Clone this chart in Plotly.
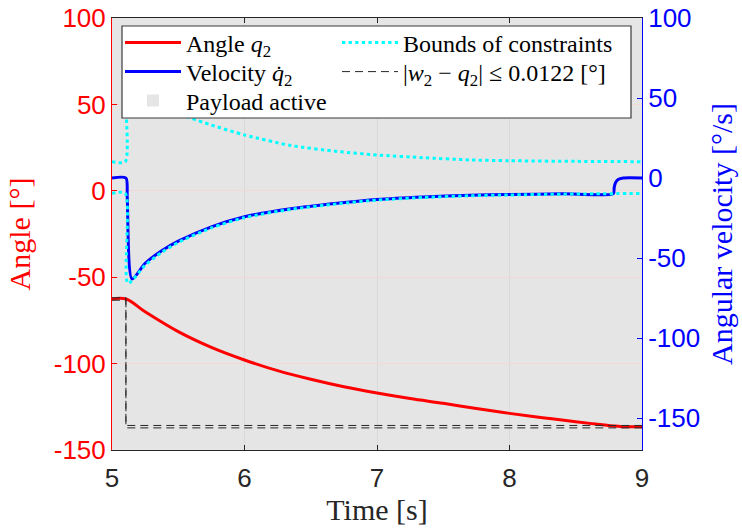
import numpy as np
import plotly.graph_objects as go

# Joint angle q2 [deg]
angle_t = [5.0, 5.106, 5.25, 5.5, 5.75, 6.0, 6.25, 6.5, 6.75, 7.0, 7.25, 7.5,
           7.75, 8.0, 8.25, 8.5, 8.65, 8.78, 8.85, 9.0]
angle_q2 = [-62.6, -62.6, -70.0, -81.5, -90.6, -97.9, -104.1, -109.1, -113.4,
            -117.0, -120.2, -123.0, -126.0, -128.8, -131.3, -133.6, -135.0,
            -136.1, -136.5, -136.5]

# Joint velocity dq2 [deg/s]
vel_t = [5.0, 5.105, 5.115, 5.151, 5.25, 5.375, 5.5, 5.75, 6.0, 6.35, 6.7, 7.0,
         7.35, 7.7, 8.0, 8.4, 8.784, 8.79, 8.80, 8.82, 8.86, 9.0]
vel_q2 = [0.0, 0.0, -12.0, -63.1, -53.3, -45.5, -39.5, -30.5, -24.2, -19.2,
          -15.8, -13.4, -11.8, -10.8, -10.3, -9.9, -9.7, -6.0, -3.0, -1.0,
          0.0, 0.0]

# Velocity constraint bounds [deg/s]
upper_t = [5.0, 5.10, 5.105, 5.2, 5.3, 5.4, 5.5, 5.6, 5.75, 6.0, 6.35, 6.7,
           7.0, 7.35, 7.7, 8.0, 8.5, 9.0]
upper_b = [10.2, 10.2, 68.0, 58.0, 51.0, 45.0, 40.5, 37.3, 33.1, 26.9, 20.3,
           16.6, 14.4, 12.7, 11.3, 10.8, 10.4, 10.2]
lower_t = [5.0, 5.10, 5.12, 5.25, 5.375, 5.5, 5.75, 6.0, 6.35, 6.7, 7.0, 7.35,
           7.7, 8.0, 8.4, 9.0]
lower_b = [-9.6, -9.6, -65.8, -54.5, -46.5, -40.3, -31.2, -24.8, -19.6, -16.2,
           -13.8, -12.2, -11.1, -10.6, -10.1, -9.6]

# Reference w2 [deg] and tolerance |w2 - q2| <= 0.0122 (rad)
w_t = [5.0, 5.105, 5.105, 9.0]
w2 = np.array([-62.6, -62.6, -136.5, -136.5])
tol_rad = 0.0122
tol_deg = np.degrees(tol_rad)

# Payload interval [s]
payload_start, payload_end = 5.0, 9.0

# Axis ticks
x_ticks = [5, 6, 7, 8, 9]
y_ticks = [-150, -100, -50, 0, 50, 100]
y_ticktext = [str(v) for v in y_ticks]

SERIF = "Liberation Serif, Times New Roman, serif"
SANS = "Liberation Sans, Arial, sans-serif"


# plot area in pixels: x 112..642, y 18..450
def px_x(px):
    return (px - 112) / 530


def px_y(py):
    return (450 - py) / 432


fig = go.Figure()

fig.add_trace(go.Scatter(
    x=angle_t, y=angle_q2, mode="lines", name="Angle <i>q</i><sub>2</sub>",
    line=dict(color="#ff0000", width=3, shape="spline", smoothing=1.0),
    yaxis="y", legend="legend"))

for i, lvl in enumerate([w2 + tol_deg, w2 - tol_deg]):
    fig.add_trace(go.Scatter(
        x=w_t, y=lvl, mode="lines",
        name="|<i>w</i><sub>2</sub> \u2212 <i>q</i><sub>2</sub>| \u2264 %.4f [\u00b0]" % tol_rad,
        line=dict(color="#262626", width=1, dash="8px,5px"), yaxis="y",
        legend="legend5", legendgroup="tol", showlegend=(i == 0)))

fig.add_trace(go.Scatter(
    x=vel_t, y=vel_q2, mode="lines", name="Velocity <i>q\u0307</i><sub>2</sub>",
    line=dict(color="#0000ff", width=3, shape="spline", smoothing=0.7),
    yaxis="y2", legend="legend2"))

fig.add_trace(go.Scatter(
    x=upper_t, y=upper_b, mode="lines", name="Bounds of constraints",
    line=dict(color="#00ffff", width=3, dash="3.3px,3.3px", shape="spline",
              smoothing=0.7),
    yaxis="y2", legend="legend4", legendgroup="bounds"))
fig.add_trace(go.Scatter(
    x=lower_t, y=lower_b, mode="lines", name="Bounds of constraints",
    line=dict(color="#00ffff", width=3, dash="3.3px,3.3px", shape="spline",
              smoothing=0.7),
    yaxis="y2", legend="legend4", legendgroup="bounds", showlegend=False))

# Payload-active interval shaded behind the grid
fig.add_shape(type="rect", xref="x", yref="paper", x0=payload_start,
              x1=payload_end, y0=0, y1=1, fillcolor="#e5e5e5",
              line=dict(width=0), layer="below", showlegend=True,
              name="Payload active", legend="legend3")

# Legend frame
fig.add_shape(type="rect", xref="paper", yref="paper",
              x0=px_x(122), x1=px_x(631), y0=px_y(118), y1=px_y(26),
              fillcolor="white", line=dict(color="#3a3a3a", width=1.2),
              layer="above")


def legend_at(px, py):
    return dict(
        x=px_x(px), y=px_y(py), xanchor="left", yanchor="middle",
        bgcolor="rgba(0,0,0,0)", borderwidth=0, itemwidth=56,
        font=dict(family=SERIF, size=24, color="black"))


fig.update_layout(
    width=742, height=528,
    margin=dict(l=112, r=100, t=18, b=78, autoexpand=False),
    paper_bgcolor="white", plot_bgcolor="white",
    showlegend=True,
    legend=legend_at(120, 43),
    legend2=legend_at(120, 72),
    legend3=legend_at(120, 101),
    legend4=legend_at(337, 43),
    legend5=legend_at(337, 72),
    xaxis=dict(
        range=[5, 9], tickvals=x_ticks, showline=True, automargin=False,
        linecolor="#262626", linewidth=1, mirror="ticks", ticks="inside",
        ticklen=5, tickcolor="#262626", showgrid=True, gridcolor="#d9d9d9",
        gridwidth=1, zeroline=False, ticklabelstandoff=5,
        tickfont=dict(family=SANS, size=26, color="#262626"),
        title=dict(text="Time [s]", standoff=3,
                   font=dict(family=SERIF, size=30, color="#262626"))),
    yaxis=dict(
        range=[-150, 100], tickvals=y_ticks, ticktext=y_ticktext,
        showline=True, automargin=False,
        linecolor="#ff0000", linewidth=1, ticks="inside",
        ticklen=5, tickcolor="#ff0000", showgrid=True, gridcolor="#f4d8d8",
        gridwidth=1, zeroline=False,
        tickfont=dict(family=SANS, size=26, color="#ff0000"),
        title=dict(text="Angle [\u00b0]", standoff=14,
                   font=dict(family=SERIF, size=30, color="#ff0000"))),
    yaxis2=dict(
        range=[-170, 100], tickvals=y_ticks, ticktext=y_ticktext,
        overlaying="y", side="right", showline=True, automargin=False,
        linecolor="#0000ff", linewidth=1, ticks="inside", ticklen=5,
        tickcolor="#0000ff", showgrid=False, zeroline=False,
        tickfont=dict(family=SANS, size=26, color="#0000ff"),
        title=dict(text="Angular velocity [\u00b0/s]", standoff=11,
                   font=dict(family=SERIF, size=30, color="#0000ff"))),
)

fig.write_html("out.html")
